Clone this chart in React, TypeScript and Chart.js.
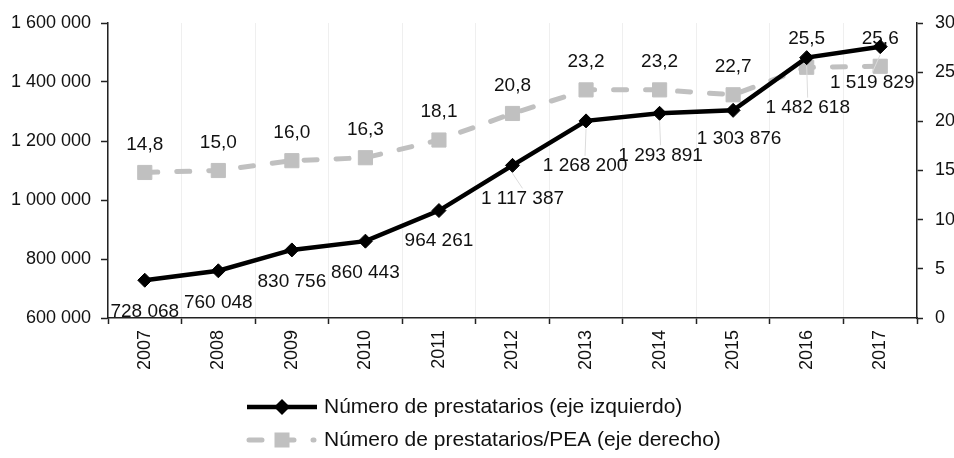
import React, { useEffect, useRef } from 'react';
import { Chart, registerables } from 'chart.js';

Chart.register(...registerables);

// ---- Data ----
const years = ['2007', '2008', '2009', '2010', '2011', '2012', '2013', '2014', '2015', '2016', '2017'];
const borrowers = [728068, 760048, 830756, 860443, 964261, 1117387, 1268200, 1293891, 1303876, 1482618, 1519829];
const borrowersPerPEA = [14.8, 15.0, 16.0, 16.3, 18.1, 20.8, 23.2, 23.2, 22.7, 25.5, 25.6];
const leftAxisMin = 600000;
const leftAxisMax = 1600000;
const leftAxisStep = 200000;
const rightAxisMin = 0;
const rightAxisMax = 30;
const rightAxisStep = 5;
const seriesNames = [
  'Número de prestatarios (eje izquierdo)',
  'Número de prestatarios/PEA (eje derecho)',
];

// ---- Label placement (pixel offsets from the point) ----
const blackLabelOffsets: [number, number][] = [
  [0, 32], [0, 32], [0, 32], [0, 32], [0, 30], [10, 33], [-1, 45], [1, 42], [6, 28], [1, 50], [-8, 36],
];
const grayLabelDy = -28;

const FONT = '"Liberation Sans", Arial, sans-serif';
const BLACK = '#000000';
const GRAY = '#c0c0c0';
const TEXT = '#111111';
const AXIS = '#222222';

const fmtInt = (n: number) => String(Math.round(n)).replace(/\B(?=(\d{3})+(?!\d))/g, ' ');
const fmtDec = (v: number) => v.toFixed(1).replace('.', ',');

const grayLabelsPlugin = {
  id: 'grayLabels',
  beforeDatasetsDraw(chart: any) {
    const ctx = chart.ctx;
    const meta = chart.getDatasetMeta(1);
    ctx.save();
    ctx.font = `19px ${FONT}`;
    ctx.fillStyle = TEXT;
    ctx.textAlign = 'center';
    ctx.textBaseline = 'middle';
    meta.data.forEach((pt: any, i: number) => {
      ctx.fillText(fmtDec(borrowersPerPEA[i]), pt.x, pt.y + grayLabelDy);
    });
    ctx.restore();
  },
};

const blackLabelsPlugin = {
  id: 'blackLabels',
  afterDatasetsDraw(chart: any) {
    const ctx = chart.ctx;
    const meta = chart.getDatasetMeta(0);
    ctx.save();
    meta.data.forEach((pt: any, i: number) => {
      const [dx, dy] = blackLabelOffsets[i];
      const lx = pt.x + dx;
      const ly = pt.y + dy;
      if (dy >= 33) {
        ctx.strokeStyle = '#dcdcdc';
        ctx.lineWidth = 1;
        ctx.beginPath();
        ctx.moveTo(pt.x, pt.y + 8);
        ctx.lineTo(lx, ly - 10);
        ctx.stroke();
      }
    });
    ctx.font = `19px ${FONT}`;
    ctx.fillStyle = TEXT;
    ctx.textAlign = 'center';
    ctx.textBaseline = 'middle';
    meta.data.forEach((pt: any, i: number) => {
      const [dx, dy] = blackLabelOffsets[i];
      ctx.fillText(fmtInt(borrowers[i]), pt.x + dx, pt.y + dy);
    });
    ctx.restore();
  },
};

const legendPlugin = {
  id: 'customLegend',
  afterDraw(chart: any) {
    const ctx = chart.ctx;
    const x0 = 247;
    const x1 = 317;
    const xm = (x0 + x1) / 2;
    const rows = [407, 440];
    ctx.save();
    // Row 1: black line with diamond
    ctx.strokeStyle = BLACK;
    ctx.lineWidth = 4.5;
    ctx.beginPath();
    ctx.moveTo(x0, rows[0]);
    ctx.lineTo(x1, rows[0]);
    ctx.stroke();
    ctx.fillStyle = BLACK;
    ctx.beginPath();
    ctx.moveTo(xm, rows[0] - 8);
    ctx.lineTo(xm + 8, rows[0]);
    ctx.lineTo(xm, rows[0] + 8);
    ctx.lineTo(xm - 8, rows[0]);
    ctx.closePath();
    ctx.fill();
    // Row 2: gray dashed line with square
    ctx.strokeStyle = GRAY;
    ctx.lineWidth = 5;
    ctx.lineCap = 'round';
    ctx.setLineDash([13, 19]);
    ctx.beginPath();
    ctx.moveTo(x0 + 2, rows[1]);
    ctx.lineTo(x1 - 3, rows[1]);
    ctx.stroke();
    ctx.setLineDash([]);
    ctx.fillStyle = GRAY;
    ctx.fillRect(xm - 7.5, rows[1] - 7.5, 15, 15);
    // Text
    ctx.font = `21px ${FONT}`;
    ctx.fillStyle = TEXT;
    ctx.textAlign = 'left';
    ctx.textBaseline = 'middle';
    ctx.fillText(seriesNames[0], 324, rows[0]);
    ctx.fillText(seriesNames[1], 324, rows[1]);
    ctx.restore();
  },
};

export default function App() {
  const ref = useRef<HTMLCanvasElement>(null);

  useEffect(() => {
    if (!ref.current) return;
    Chart.defaults.font.family = FONT;
    const chart = new Chart(ref.current, {
      type: 'line',
      data: {
        labels: years,
        datasets: [
          {
            label: seriesNames[0],
            data: borrowers,
            yAxisID: 'y',
            borderColor: BLACK,
            backgroundColor: BLACK,
            borderWidth: 4.5,
            pointStyle: 'rectRot',
            pointRadius: 7,
            pointBorderWidth: 1,
            pointBackgroundColor: BLACK,
            pointBorderColor: BLACK,
            tension: 0,
            fill: false,
          },
          {
            label: seriesNames[1],
            data: borrowersPerPEA,
            yAxisID: 'y1',
            borderColor: GRAY,
            backgroundColor: GRAY,
            borderWidth: 5,
            borderDash: [13, 19],
            borderCapStyle: 'round',
            pointStyle: 'rect',
            pointRadius: 10,
            pointBorderWidth: 1,
            pointBackgroundColor: GRAY,
            pointBorderColor: GRAY,
            tension: 0,
            fill: false,
          },
        ],
      },
      options: {
        responsive: false,
        animation: false,
        devicePixelRatio: 1,
        layout: { padding: { top: 23, bottom: 0, left: 0, right: 0 } },
        plugins: {
          legend: { display: false },
          tooltip: { enabled: false },
        },
        scales: {
          x: {
            type: 'category',
            offset: true,
            grid: {
              offset: true,
              drawOnChartArea: true,
              color: '#efefef',
              lineWidth: 1,
              drawTicks: true,
              tickLength: 6,
              tickColor: AXIS,
              tickWidth: 1.5,
            },
            border: { display: true, color: AXIS, width: 1.5 },
            ticks: {
              minRotation: 90,
              maxRotation: 90,
              padding: 6,
              color: TEXT,
              font: { size: 18, family: FONT },
            },
            afterFit: (s: any) => {
              s.height = 140;
            },
          },
          y: {
            type: 'linear',
            position: 'left',
            min: leftAxisMin,
            max: leftAxisMax,
            grid: {
              drawOnChartArea: false,
              drawTicks: true,
              tickLength: 7,
              tickColor: AXIS,
              tickWidth: 1.5,
            },
            border: { display: true, color: AXIS, width: 1.5 },
            ticks: {
              stepSize: leftAxisStep,
              padding: 10,
              color: TEXT,
              font: { size: 18, family: FONT },
              callback: (v: any) => fmtInt(Number(v)),
            },
            afterFit: (s: any) => {
              s.width = 108;
            },
          },
          y1: {
            type: 'linear',
            position: 'right',
            min: rightAxisMin,
            max: rightAxisMax,
            grid: {
              drawOnChartArea: false,
              drawTicks: true,
              tickLength: 6,
              tickColor: AXIS,
              tickWidth: 1.5,
            },
            border: { display: true, color: AXIS, width: 1.5 },
            ticks: {
              stepSize: rightAxisStep,
              padding: 12,
              color: TEXT,
              font: { size: 18, family: FONT },
              callback: (v: any) => String(v),
            },
            afterFit: (s: any) => {
              s.width = 37;
            },
          },
        },
      },
      plugins: [grayLabelsPlugin, blackLabelsPlugin, legendPlugin],
    } as any);
    return () => chart.destroy();
  }, []);

  return (
    <div style={{ position: 'absolute', left: 0, top: 0, width: 954, height: 458, background: '#fff' }}>
      <canvas ref={ref} width={954} height={458} style={{ width: 954, height: 458, display: 'block' }} />
    </div>
  );
}
